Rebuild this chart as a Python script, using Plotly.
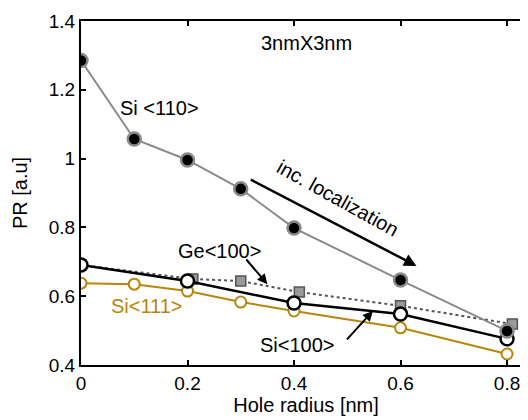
import plotly.graph_objects as go

x_si110 = [0, 0.1, 0.2, 0.3, 0.4, 0.6, 0.8]
y_si110 = [1.285, 1.057, 0.996, 0.912, 0.798, 0.647, 0.499]

x_ge100 = [0, 0.21, 0.3, 0.41, 0.6, 0.81]
y_ge100 = [0.691, 0.650, 0.644, 0.612, 0.572, 0.519]

x_si100 = [0, 0.2, 0.4, 0.6, 0.8]
y_si100 = [0.691, 0.644, 0.580, 0.548, 0.476]

x_si111 = [0, 0.1, 0.2, 0.3, 0.4, 0.6, 0.8]
y_si111 = [0.638, 0.635, 0.615, 0.583, 0.557, 0.508, 0.432]

x_ticks = [0, 0.2, 0.4, 0.6, 0.8]
x_ticklabels = ["0", "0.2", "0.4", "0.6", "0.8"]
y_ticks = [0.4, 0.6, 0.8, 1.0, 1.2, 1.4]
y_ticklabels = ["0.4", "0.6", "0.8", "1", "1.2", "1.4"]

GOLD = "#B8860B"
GRAY = "#8a8a8a"
FONT = "Liberation Sans, Arial, sans-serif"

fig = go.Figure()
fig.add_trace(go.Scatter(x=x_si111, y=y_si111, mode="lines+markers",
                         line=dict(color=GOLD, width=2),
                         marker=dict(symbol="circle", size=11, color="white",
                                     line=dict(color=GOLD, width=2)),
                         name="Si<111>"))
fig.add_trace(go.Scatter(x=x_ge100, y=y_ge100, mode="lines+markers",
                         line=dict(color="#555555", width=2, dash="dot"),
                         marker=dict(symbol="square", size=10, color="#9a9a9a",
                                     line=dict(color="#555555", width=1.5)),
                         name="Ge<100>"))
fig.add_trace(go.Scatter(x=x_si100, y=y_si100, mode="lines+markers",
                         line=dict(color="black", width=2.5),
                         marker=dict(symbol="circle", size=13, color="white",
                                     line=dict(color="black", width=2.5)),
                         name="Si<100>"))
fig.add_trace(go.Scatter(x=x_si110, y=y_si110, mode="lines+markers",
                         line=dict(color=GRAY, width=2),
                         marker=dict(symbol="circle", size=13, color="black",
                                     line=dict(color=GRAY, width=2.5)),
                         name="Si<110>"))

annots = [
    dict(x=0.424, y=1.336, text="3nmX3nm", showarrow=False),
    dict(x=0.148, y=1.147, text="Si &lt;110&gt;", showarrow=False),
    dict(x=0.123, y=0.571, text="Si&lt;111&gt;", showarrow=False, font=dict(color=GOLD, size=20, family=FONT)),
    dict(x=0.482, y=0.885, text="inc. localization", showarrow=False, textangle=29),
    dict(x=0.260, y=0.731, text="Ge&lt;100&gt;", showarrow=False),
    dict(x=0.406, y=0.458, text="Si&lt;100&gt;", showarrow=False),
    # arrows
    dict(x=0.630, y=0.688, ax=0.316, ay=0.941, axref="x", ayref="y", text="",
         showarrow=True, arrowhead=2, arrowsize=1.0, arrowwidth=2.5, arrowcolor="black"),
    dict(x=0.350, y=0.635, ax=0.308, ay=0.711, axref="x", ayref="y", text="",
         showarrow=True, arrowhead=2, arrowsize=1.0, arrowwidth=2, arrowcolor="black"),
    dict(x=0.548, y=0.557, ax=0.497, ay=0.470, axref="x", ayref="y", text="",
         showarrow=True, arrowhead=2, arrowsize=1.0, arrowwidth=2, arrowcolor="black"),
]
for a in annots:
    a.setdefault("font", dict(color="black", size=20, family=FONT))
    a["xref"] = "x"
    a["yref"] = "y"
    fig.add_annotation(**a)

fig.update_layout(
    width=528, height=420,
    margin=dict(l=73, r=3, t=13, b=63),
    paper_bgcolor="white", plot_bgcolor="white",
    showlegend=False,
    font=dict(family=FONT, size=19, color="black"),
)
fig.update_xaxes(range=[0, 0.845], tickvals=x_ticks, ticktext=x_ticklabels,
                 ticks="inside", ticklen=5, tickwidth=1.5, tickcolor="black",
                 showline=True, linecolor="black", linewidth=2, mirror="ticks",
                 showgrid=False, zeroline=False,
                 title=dict(text="Hole radius [nm]", standoff=2, font=dict(size=20)))
fig.update_yaxes(range=[0.4, 1.4], tickvals=y_ticks, ticktext=y_ticklabels,
                 ticks="inside", ticklen=5, tickwidth=1.5, tickcolor="black",
                 showline=True, linecolor="black", linewidth=2, mirror="ticks",
                 showgrid=False, zeroline=False,
                 title=dict(text="PR [a.u]", standoff=16, font=dict(size=20)))

fig.write_html("out.html")
